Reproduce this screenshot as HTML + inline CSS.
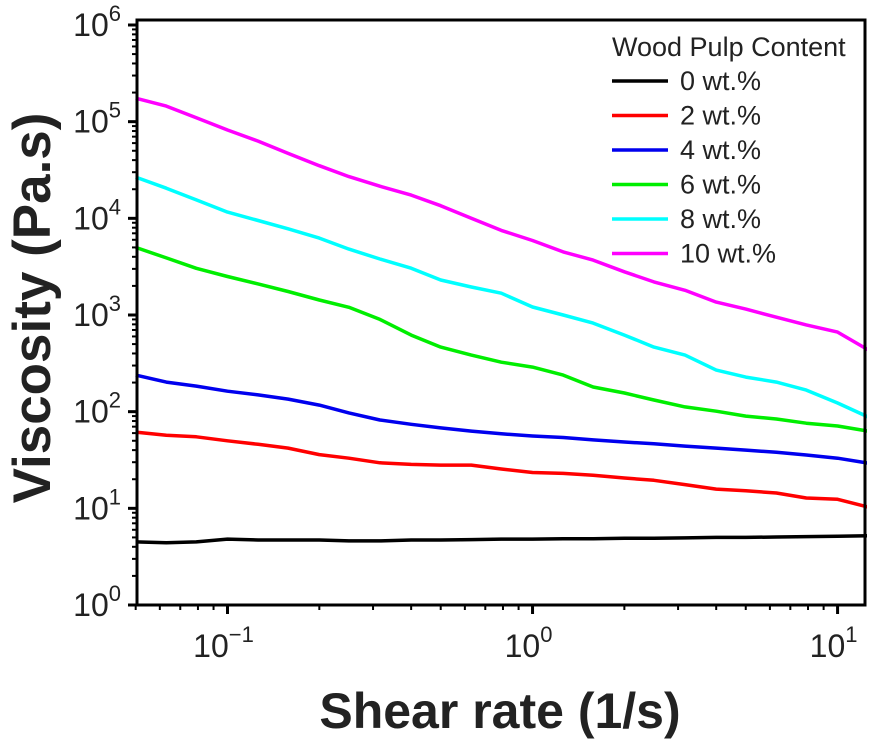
<!DOCTYPE html>
<html><head><meta charset="utf-8"><style>
body{margin:0;background:#fff;}
svg{display:block;font-family:"Liberation Sans",Arial,sans-serif;}
</style></head><body>
<svg id="chart" width="876" height="745"></svg>
<script>
const xVals=[0.05,0.063,0.079,0.1,0.126,0.158,0.2,0.25,0.316,0.4,0.5,0.63,0.79,1,1.26,1.58,2,2.5,3.16,4,5,6.3,7.9,10,12.6];
const seriesNames=["0 wt.%","2 wt.%","4 wt.%","6 wt.%","8 wt.%","10 wt.%"];
const seriesColors=["#000000","#ff0000","#0000ee","#00ee00","#00ffff","#ff00ff"];
const s0=[4.5,4.4,4.5,4.8,4.7,4.7,4.7,4.6,4.6,4.7,4.7,4.75,4.8,4.8,4.85,4.85,4.9,4.9,4.95,5.0,5.0,5.05,5.1,5.15,5.2];
const s2=[61.5,57,55,50,46,42,36,33,29.6,28.5,28,28,25.5,23.5,23,22,20.6,19.5,17.6,15.8,15.2,14.4,12.8,12.4,10.3];
const s4=[239,202,184,163,149,135,117,97,82,74,68,63,59,56,54,51,48.5,46.5,44,42,40,38,35.6,33,29.4];
const s6=[5000,3900,3040,2500,2100,1750,1430,1200,900,620,466,385,325,289,239,180,156,132,112,101,90,84,76,71,63];
const s8=[26700,20500,15500,11600,9500,7800,6240,4800,3800,3050,2300,1950,1680,1210,1000,825,620,466,385,269,228,202,167,123,88];
const s10=[175000,145000,110000,82000,63000,47000,35000,27000,21500,17400,13500,10000,7500,5900,4500,3700,2800,2200,1800,1360,1150,950,790,665,435];
const allSeries=[s0,s2,s4,s6,s8,s10];
const yTickExps=[0,1,2,3,4,5,6];
const xTickExps=[-1,0,1];

const NS="http://www.w3.org/2000/svg";
const svg=document.getElementById('chart');
const L=137,R=865,T=25,B=605;
const xLogMin=Math.log10(0.0505),xLogMax=Math.log10(12.3);
function xs(v){return L+(Math.log10(v)-xLogMin)/(xLogMax-xLogMin)*(R-L);}
function ys(v){return B-(Math.log10(v)-0)/(6-0)*(B-T);}
function el(tag,attrs){const e=document.createElementNS(NS,tag);for(const k in attrs)e.setAttribute(k,attrs[k]);svg.appendChild(e);return e;}

allSeries.forEach((s,i)=>{
  const d=s.map((v,j)=>(j?'L':'M')+xs(xVals[j]).toFixed(1)+','+ys(v).toFixed(1)).join('');
  const p=el('path',{d:d,fill:'none',stroke:seriesColors[i],'stroke-width':3.5,'stroke-linejoin':'round'});
  
  
});
el('rect',{x:R+2,y:0,width:20,height:745,fill:'#fff'});
const fr=el('rect',{x:L,y:T-5,width:R-L,height:B-T+5,fill:'none',stroke:'#000','stroke-width':3});


yTickExps.forEach(e=>{
  const y=ys(Math.pow(10,e));
  el('line',{x1:L-9,x2:L,y1:y,y2:y,stroke:'#000','stroke-width':3});
  if(e<6){for(let m=2;m<10;m++){const ym=ys(m*Math.pow(10,e));el('line',{x1:L-5,x2:L,y1:ym,y2:ym,stroke:'#000','stroke-width':2});}}
  const t=el('text',{x:L-16,y:y+11,'text-anchor':'end','font-size':32,fill:'#222'});
  
  
  t.innerHTML='10<tspan dy="-15" font-size="22">'+e+'</tspan>';
});
xTickExps.forEach(e=>{
  const x=xs(Math.pow(10,e));
  el('line',{x1:x,x2:x,y1:B,y2:B+9,stroke:'#000','stroke-width':3});
  const t=el('text',{x:x-4,y:B+52,'text-anchor':'middle','font-size':32,fill:'#222'});
  
  
  t.innerHTML='10<tspan dy="-15" font-size="22">'+(e<0?'\u2212'+(-e):e)+'</tspan>';
});
[-2,-1,0,1].forEach(e=>{for(let m=2;m<10;m++){const v=m*Math.pow(10,e);if(v<0.05||v>12.3)continue;const x=xs(v);el('line',{x1:x,x2:x,y1:B,y2:B+5,stroke:'#000','stroke-width':2});}});
const xt=el('text',{x:500,y:728,'text-anchor':'middle','font-size':50,'font-weight':'bold',fill:'#222'});


xt.textContent='Shear rate (1/s)';
const yt=el('text',{x:0,y:0,'text-anchor':'middle','font-size':53,'font-weight':'bold',fill:'#222',transform:'translate(50,308) rotate(-90)'});


yt.textContent='Viscosity (Pa.s)';
const lt=el('text',{x:612,y:56,'font-size':27,fill:'#222'});


lt.textContent='Wood Pulp Content';
seriesNames.forEach((n,i)=>{
  const y=81+i*34.5;
  const ln=el('line',{x1:612,x2:668,y1:y,y2:y,stroke:seriesColors[i],'stroke-width':3.5});
  
  
  const t=el('text',{x:680,y:y+9,'font-size':27,fill:'#222'});
  
  
  t.textContent=n;
});
</script>
</body></html>
